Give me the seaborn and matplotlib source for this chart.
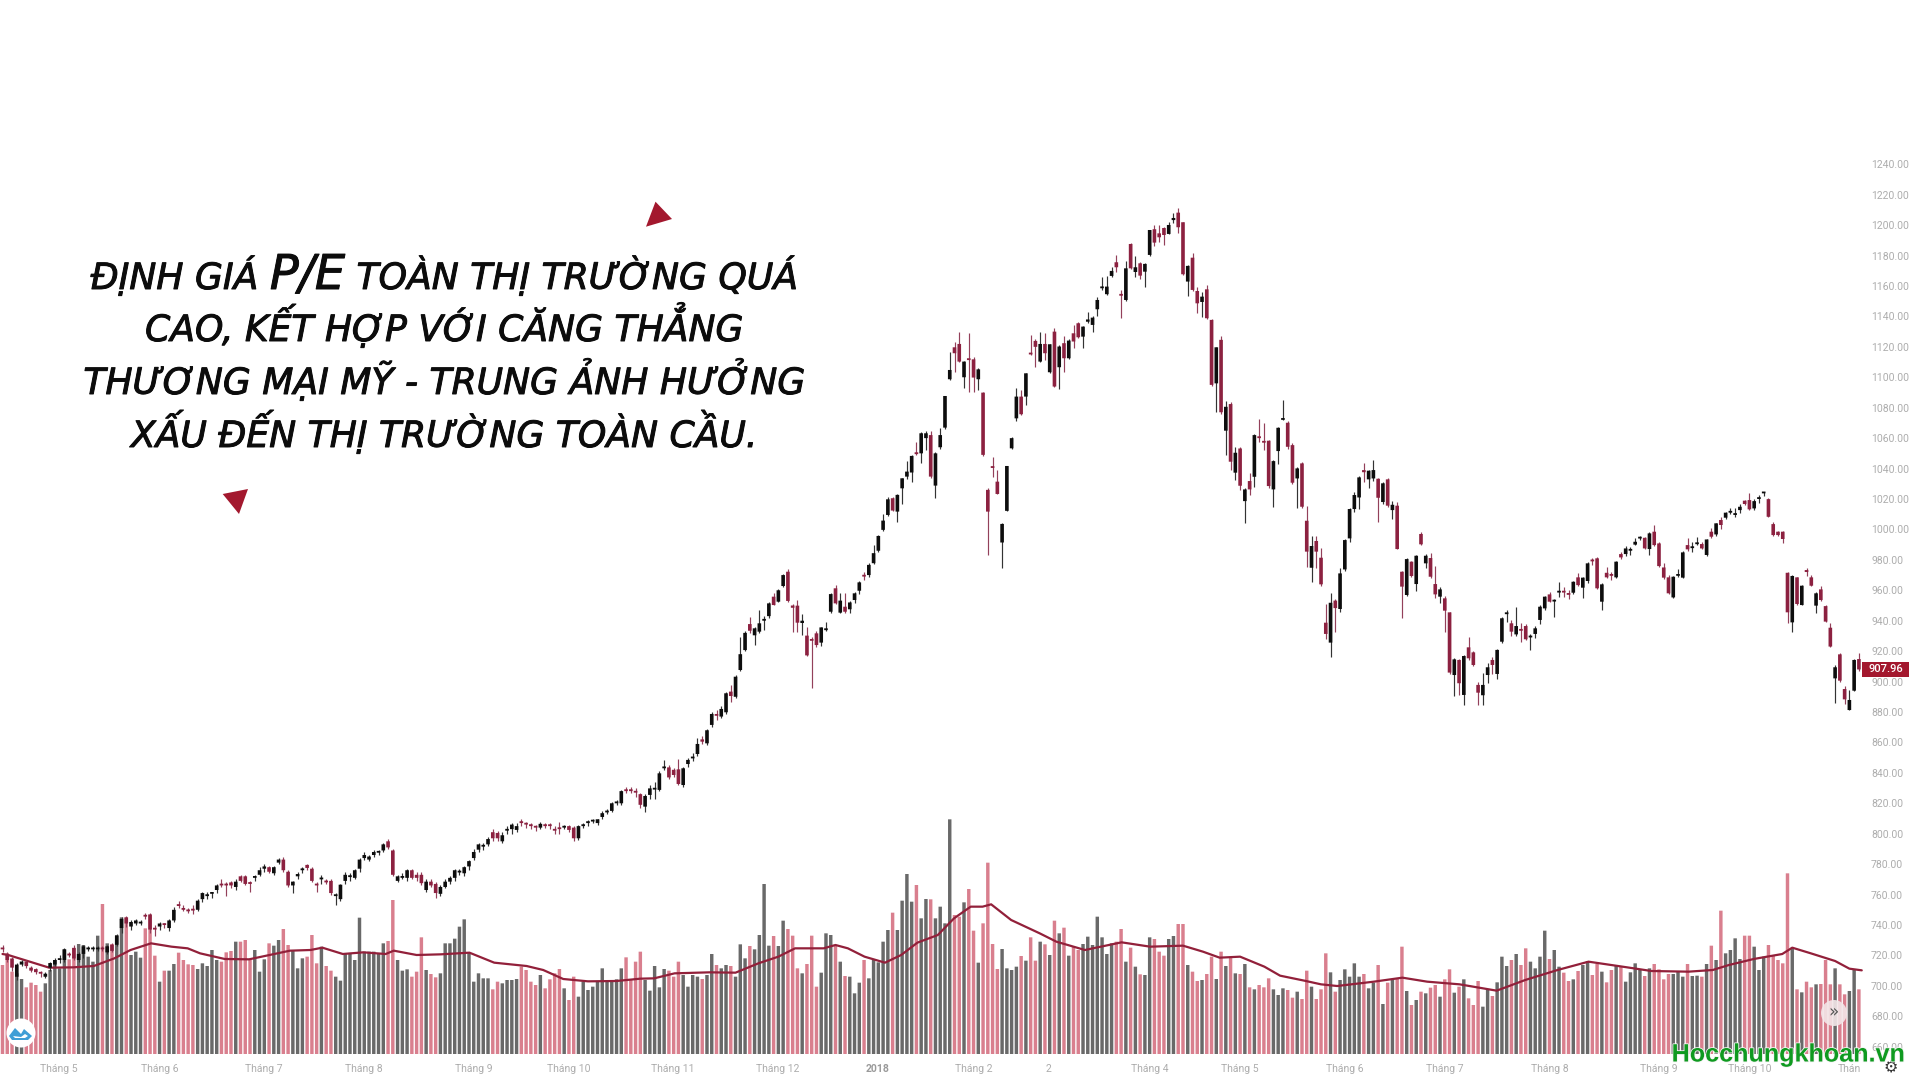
import numpy as np
import pandas as pd
import matplotlib
matplotlib.use("Agg")
import matplotlib.pyplot as plt
from matplotlib.patches import Polygon, Rectangle
import matplotlib.patheffects as pe
import seaborn as sns

body_top = [
 725,721,718,714,716,716,712,711,709,708,
 715,717,718,724,721,725,721,726,725,725,
 725,725,726,727,733,744,745,742,743,742,
 746.5,747,738,741,741,743,750,753.5,751,750,
 750,756,761,760,761,766,767,767,768,768.5,
 772,772,768,772,776,778.5,778,778,783,783,
 775,768.5,773.5,777,779.5,777,767,771,769,769,
 760,766.5,773,772.5,776,783,786,785,788,788.5,
 793,795,789,772,772,776,776,773,773,768.5,
 768.5,767,765,768.5,771,776,775.5,778,782,788,
 793,792.5,796.5,801,800.5,799,803,806,805,808,
 807,806,805,806.5,806,806,803,804,805,805,
 804,805,806,808,809,809.5,813.5,815,820,821,
 828,829,829,828,826,824.8,829.8,830,839.7,844,
 843.6,842,842.3,843,848.5,850,859,862,868,878.7,
 878.5,882,892.3,893.4,903.2,918,932,937.8,935,938.3,
 941,951.4,955.8,960,970,972.2,950,949.9,940,930.2,
 927.8,931.7,935.6,934.8,957.5,961.3,953.2,949.2,952,958,
 965.2,969.9,976.7,984.4,995.7,1005.8,1019.8,1020.5,1022.7,1033.6,
 1038,1048.3,1050.5,1063.2,1063.2,1062,1050,1062,1087.7,1104.8,
 1119.7,1121.9,1110.3,1112.3,1111.8,1105.2,1089.9,1026,1041.4,1031.4,
 1003.6,1041.7,1060,1087.3,1087.3,1102.6,1116,1123.9,1121.9,1121.9,
 1121.7,1130,1120.2,1122.4,1124.1,1128.9,1135.5,1133.3,1138,1139.2,
 1150.8,1159.5,1159.6,1169.9,1175.6,1154.6,1171.6,1187.6,1172.3,1174.9,
 1174.5,1196.8,1197.3,1194.6,1198.1,1200.1,1204.7,1208.2,1201.9,1173.2,
 1178.6,1156.7,1153,1157.8,1137.7,1119.7,1124.6,1080.6,1082.4,1050.4,
 1053.2,1026.3,1031.8,1062,1061,1058,1058.3,1044.9,1066.8,1073,
 1070.1,1055.4,1040.1,1043.4,1005.7,989.1,992.4,981.4,938.7,951.8,
 953.2,971.1,993,1013.4,1022.6,1034.2,1039,1038.6,1039,1033.3,
 1030.3,1032.9,1016.2,1015.6,972.2,980.5,978.8,982.7,997,982.7,
 981.2,964.1,960.6,954.7,945.5,914.6,914.2,916.8,922.5,919.2,
 897.8,897.8,909.4,914.2,920.8,941.6,945.3,938.3,936.5,934.4,
 936.5,930,935,949.2,955.8,957.3,953.6,959.5,959.5,958,
 965.6,968.5,968.3,977.7,979.9,981,963.9,971.5,970.5,978.8,
 983.8,987.5,986.9,991.9,995,994.5,997.4,998.5,990.8,975,
 968.5,968.9,970.5,984.9,989.7,988.7,991.3,990.4,993.4,998.5,
 1004,1006.2,1011,1012,1010.5,1014.9,1018.9,1019.3,1018.6,1020.9,
 1024.6,1019.9,1003.5,998.5,998.5,971.5,969.4,968.5,963,973.3,
 968.5,958,960.6,949.6,935.4,909.4,917.9,895.1,887.9,914.2,914.8,
]
body_bottom = [
 724,717,712,706,714,713,710,709,708,706,
 712,714,717,717,720,718,717,721,724,724,
 724,724,722,723,727,738,741,739,741,741,
 745.5,737,737,739,740,738,743,752.5,750,749,
 749.5,750,757,759,760.5,763,766,766,766,765,
 769,767,767,771,773,777,775,774,781,776,
 766,766,772,776,777.5,769,766,770,768,761,
 759,757,769,771.5,771,777,784,783,786,787.5,
 789,791,773,769,771,771,771,771,767.5,763,
 766,761,760.5,765,768.5,771,774.5,774,778.5,784,
 789.5,791.5,793,797,797,795,802,803,802.5,807,
 806,805,804,804,805,805,802,803,804,802.5,
 797,797,805,807,808,807,811,814,815,820,
 820,828,828,827,819,817.8,825.5,829,828.8,843,
 837,838.6,832.7,832,845.8,849.5,852.4,860.5,859.4,871.5,
 877.5,877,879.8,890.5,890,907.6,920.7,933.4,930.4,932.8,
 940,943,950.3,952.5,962.8,953,948.5,938.7,938.5,917.2,
 926.8,924,925.6,933.8,945.9,951.4,945.3,945.9,947.5,953.6,
 959.7,969,970,977.8,986,999.7,1009.5,1012.4,1011.7,1027,
 1034.7,1037.4,1049.5,1050,1060,1034.7,1028.8,1054,1066.9,1098.7,
 1115.8,1110.3,1100,1111.3,1099.8,1098.7,1049,1011.7,1040.4,1023.3,
 991.4,1012.2,1053.3,1073,1075.7,1087.3,1115,1120,1110.3,1115.8,
 1103.3,1093.9,1106.6,1112.5,1112.5,1123.5,1126.3,1126.7,1136.5,1134.4,
 1144.7,1158.5,1154.6,1166.6,1172.3,1153.6,1150.8,1171.6,1169.2,1166.8,
 1169.4,1180.4,1188.5,1192,1193.5,1194.2,1203.3,1198.6,1167.7,1162.9,
 1157.4,1148.6,1149.5,1138.8,1095,1096,1077,1064.9,1044.5,1037.3,
 1028.7,1018.6,1026.3,1034.6,1060,1057,1028.5,1026.3,1051.5,1072,
 1054.3,1030.7,1033.5,1014.9,985.4,974.8,985.4,963.9,931.3,925.6,
 948.3,947.7,973.7,994.1,1013.4,1021,1037.6,1032.9,1033.5,1020.8,
 1018,1015.6,1012.7,987.1,962.4,956.9,969.4,964.1,990.2,977.7,
 968.9,957.3,955.8,946.6,905.9,904.3,898.9,891.2,915.3,910.9,
 892.7,891,904.3,910.9,905,926.2,944.3,932.8,931,933.4,
 927.8,929,931.3,940.5,948.1,952.5,952.6,958.5,958.5,957,
 958.4,963.4,961.7,966.1,979,961.3,952.5,968.5,969.5,968.5,
 981.6,983.8,986,990,994,987.5,987.1,989.7,975.9,968.3,
 958,955.3,969.5,968.3,986.9,987.7,990.3,987.5,983.2,995.2,
 996.7,1002.9,1007.7,1011,1009.5,1012.7,1016.7,1013.2,1013.8,1020,
 1023.7,1008.3,996.3,996.3,993.7,945.5,938.9,951,950.3,972,
 963,949.9,953.6,939.4,923,902.1,900.6,888.3,881.3,894,907.96,
]
wick_high = [
 727,722,719,715,717,717,713,712,710,709,
 716,718,720,725,722,727,722,727,726,726,
 726,726,727,728,734,745,746,743,744,743,
 748,748,740,742,741,744,752,756,753,751,
 753,757,762,762,762,767,770,768,769,770,
 773,773,769,773,778,780,779,779,784,785,
 776,769,775,778,780,778,768,773,770,770,
 761,767,775,774,777,784,788,786,789,789,
 794,796.5,790,773,774,777,777,775,775,770,
 770,768,766,770,772,777,777,779,783,790,
 794,794,798,803,802,801,805,807,807,810,
 808,807,806,808,807,807,805,808,806,806,
 805,806,807,809,810,810,815,816,821,822,
 829,831,831,830,827,826,832,834,841,848.5,
 845,843,849,844,850,853,862.7,864,869,880,
 881,884,893,897.7,904,929.5,933,942.6,936,947,
 943,952,958.4,961,971,973.7,951,953.6,944.4,936,
 929,933,936,939.4,958,963.4,958.4,958,953,959,
 966,972,978,990,996.5,1010,1021,1021,1023,1034,
 1045,1049,1057.7,1064,1065,1065,1051,1066.5,1088,1116.9,
 1123.4,1130,1111,1128.9,1113,1106,1090,1027,1047.9,1039,
 1004,1042,1061,1092.8,1091.7,1103,1127.8,1125,1130,1129.4,
 1122,1132.2,1121,1126.8,1125,1134.4,1136,1134,1143.2,1140,
 1153,1165.7,1166.6,1172.3,1180.4,1157.4,1176.7,1188,1179.7,1176,
 1175,1197,1200.1,1200.1,1199,1202.3,1207.8,1211,1202,1174,
 1181.5,1159.2,1156.3,1160.7,1138,1120,1127,1084.7,1083.5,1054,
 1054,1027,1037.3,1063,1072.3,1069.7,1059,1045.5,1067.5,1085,
 1071,1057,1041,1044,1015.4,995.6,995.6,987.5,951,958.4,
 954,974.4,994,1014,1024.8,1035,1043.4,1039,1045.6,1034,
 1031,1033.5,1018.9,1018.2,973,981,979.5,983.5,998,984,
 984.3,976,962,956,946,915.5,915,917.5,929,920,
 899.9,905.4,912,916.4,921.5,942.3,947,940.5,948.8,938.3,
 938,931,936.5,950,956.5,959,954,965.6,962.3,960,
 966.2,971.1,969,978.5,981,982,964.5,975,972.2,979.5,
 985.3,989.1,988.2,994.1,995.5,995,998,1002.9,991.5,977.7,
 970,969.5,973.7,985.5,994.1,991.9,995.2,991.9,994,1000.7,
 1004.5,1007.9,1011.5,1013.8,1013.8,1016.7,1019.5,1023.7,1019.7,1022.6,
 1024.8,1020.5,1005,999,999,972,970,969,963.5,974.8,
 970,959,963,950,938.3,910.9,918.5,897.1,894.5,915,918.5,
]
wick_low = [
 722,716,710,704,713,712,709,708,706,705,
 710,713,715,716,719,717,716,718,723,723,
 723,723,721,722,726,735,739,737,740,740,
 744,735,733,737,738,736,742,751,749,748,
 747,749,755,757,758,761,765,759,764,763,
 768,766,762,769,772,775,774,773,780,775,
 765,761,770,774,776,768,762,767,767,760,
 753,756,767,769,770,775,783,782,785,786,
 788,790,772,768,770,769,770,769,766,762,
 765,758,759,764,767,769,773,772,776,783,
 788,789,792,795,795,794,800,800,801,805,
 804,803,802,803,803.5,803,800,800,803,801,
 795,796,804,805,807,806,810,813,814,819,
 819,827,827,824,817,814.5,822.6,823,828,842,
 836,837,832,831,844,848,851,859,858,870,
 875,876,879,886.8,889,907,920,932,924,932,
 934,942,950,952,962,952.5,932.8,932.8,930.6,917,
 895.6,922.5,923.4,933.4,945,951,945,945,945.3,951.4,
 957.5,967,969,977,985,999,1009,1012,1005,1017,
 1033,1031,1049,1043.5,1052,1034,1020.5,1053,1066,1098,
 1103.7,1110,1092.8,1090.6,1090.6,1091.7,1048,983.3,1034.7,1023,
 974.5,1012,1053,1071,1075,1081.8,1114.7,1107,1110,1111.4,
 1103,1093.5,1092.1,1103.7,1112,1119,1126,1119,1135.5,1130,
 1140.3,1157.4,1154,1165.7,1169.4,1138.8,1150,1171,1165.7,1164.4,
 1159.1,1180,1186.3,1189.2,1187,1194,1201.2,1195,1167,1153.5,
 1157,1142,1139.9,1138,1094.5,1077.5,1076,1048.9,1039,1032.4,
 1026,1004,1022.6,1028,1057.6,1052.2,1027,1014.5,1043,1071.8,
 1052.6,1030,1013.8,1014,975.5,965.6,974.4,963,927.8,916,
 932.8,945.5,973,992,1011.6,1013.2,1031.3,1027,1032,1005,
 1017,1015,1006.6,987,941.6,956,969,959.7,989.5,974.4,
 968,954.7,951.4,932.8,905,890.5,891,884.6,914.5,910,
 884.6,884.6,899.3,905,902,925.5,939.4,930,930,926.2,
 927,920.8,928.4,937.8,947,952,942.2,955.4,955.3,954,
 957.5,962.5,954.7,965,976.6,961,947,968,966.7,968,
 980.3,982.5,983.2,989.5,993,987,983.2,989,975,967.5,
 957.5,955,969,968,986,985.3,989.7,987,982.5,994.5,
 996,1000,1007,1009.9,1007.9,1011,1016,1012.5,1013,1017.1,
 1021.9,1008,996,996,991.3,938.3,932.8,950.5,950,969.4,
 962.5,945.3,953,939,922.5,885.7,900,885.3,881,893.5,907,
]
direction = (
 "DDDUUDDDDU" "UUUUDDUUUU" "UDUDUUDUUU" "DDDUDUUDDD" "DUUUUUDDDU"
 "DDDUUUDUUD" "DUUUDDDUDD" "UUUUUUUUUU" "UDDUUUDDDU" "DDUUUUUUUU"
 "UUUDDUUUUD" "DDDUDDDDUD" "DUUUUUUUUU" "UDDDDUUUUU" "DDDUUUUDUU"
 "DUUDUUUDUU" "UUDUUDDDUD" "DDUUUDUDUU" "UDUUUUUDUU" "UUDUUDUUUU"
 "DDUDDUDDDD" "UUUUDUDDUD" "UDUDUDDUUU" "UUUUDDUDUD" "UUDDDUUDDU"
 "DDUDDUDUDU" "DUDUDDDUUU" "DDUDDUDDDU" "DUUUUUDUUD" "UDUDDUDUDU"
 "DDUDDUDUDD" "DUUDUUUDUD" "DUUUUDUUDD" "UDUUDDUDDU" "DUUUUDUDDD"
 "DUUUDUUDUD" "UDUUUUDDUU" "UDDDDDUDUD" "DUDDDUDDUUD"
)
volume = [
 267,302,247,242,225,200,214,207,187,212,
 252,282,257,314,284,317,330,327,292,277,
 355,450,332,330,357,410,410,297,307,289,
 377,417,295,217,250,250,270,304,282,269,
 267,255,272,264,312,282,277,305,309,337,
 337,342,284,312,247,284,332,325,342,375,
 327,312,257,287,292,357,272,322,264,250,
 232,220,300,300,282,409,307,307,307,302,
 332,339,462,282,250,254,232,247,350,252,
 240,230,242,332,332,346,382,404,304,217,
 242,227,227,194,217,212,222,222,225,262,
 252,217,207,237,197,224,242,255,197,162,
 232,172,217,192,202,217,257,222,222,224,
 257,290,224,277,307,222,190,264,200,255,
 250,232,277,237,202,237,232,225,237,300,
 267,257,267,264,232,329,287,324,314,357,
 510,325,354,324,400,375,355,257,242,270,
 355,202,244,362,357,324,277,234,232,182,
 214,282,227,282,275,337,372,424,372,460,
 540,457,507,407,465,464,407,442,392,704,
 417,412,455,495,370,274,392,574,330,255,
 315,257,252,262,294,280,350,280,337,329,
 297,400,362,379,295,322,312,330,352,327,
 412,350,300,332,337,375,277,319,262,239,
 237,350,345,307,295,345,354,390,390,267,
 247,219,222,240,292,225,307,264,289,242,
 240,270,200,194,207,200,227,194,177,197,
 192,169,187,165,250,202,165,194,302,245,
 187,222,254,232,272,232,240,197,214,267,
 150,214,225,227,322,189,147,162,187,182,
 199,207,172,224,254,184,202,224,167,147,
 219,142,194,174,215,292,264,282,300,267,
 317,277,257,292,370,285,312,262,244,219,
 224,249,267,279,237,270,247,215,252,264,
 262,217,245,272,252,234,257,270,254,224,
 240,240,247,232,270,234,235,232,270,325,
 282,430,302,312,347,285,355,355,322,252,
 292,327,294,282,272,542,317,194,185,217,
 200,209,210,282,209,257,209,179,189,252,194,
]
ma_index = [
 0,1.2,4.6,9.8,14.9,19.2,23.5,26.9,31.2,35.5,38.9,41.5,46.7,51.8,56.1,60.4,
 64.7,67.2,71.5,75.8,80.5,82.2,87,92.1,98.1,103.3,110.1,113.6,117.8,123,129,134,
 136.9,141.2,148.5,154,158.8,163,166.5,172.5,175,177.6,181.1,185.4,188.8,192.2,
 196.5,199.9,203.4,205.9,207.7,211.9,217.9,221.4,227.4,235.1,241.1,248,252.2,
 255.7,260,265.1,268.4,273.5,277,280.4,288.1,294.1,299.3,306.1,313.9,319.9,
 326.7,333.2,341.3,346.4,354.2,359.3,362.7,367.9,373.9,376,379.9,385,388,390.6,
]
ma_value = [
 300,297,282,259,260,264,287,312,332,322,317,302,285,284,297,310,
 312,319,300,305,300,310,297,299,304,274,264,252,225,218,219,226,
 227,242,245,244,272,292,317,317,327,317,292,274,297,334,
 357,407,442,442,449,402,362,337,312,335,322,325,307,
 289,292,262,235,220,209,204,217,229,217,209,190,222,
 252,277,260,249,247,252,267,285,300,319,302,279,256,251,
]
price_ticks = list(range(660, 1241, 20))
month_positions = [11.9,33,54.9,76,99,119,140.8,162.9,183.9,204,219.8,241,260,282,303,325,348,367,388]
month_labels = ["Tháng 5","Tháng 6","Tháng 7","Tháng 8","Tháng 9","Tháng 10","Tháng 11","Tháng 12","2018",
                "Tháng 2","2","Tháng 4","Tháng 5","Tháng 6","Tháng 7","Tháng 8","Tháng 9","Tháng 10","Thán"]
last_price = 907.96
caption = [
    [("ĐỊNH GIÁ ", False), ("P/E", True), (" TOÀN THỊ TRƯỜNG QUÁ", False)],
    [("CAO, KẾT HỢP VỚI CĂNG THẲNG", False)],
    [("THƯƠNG MẠI MỸ - TRUNG ẢNH HƯỞNG", False)],
    [("XẤU ĐẾN THỊ TRƯỜNG TOÀN CẦU.", False)],
]

n = len(volume)
assert all(len(a) == n for a in (body_top, body_bottom, wick_high, wick_low, direction))

W, H = 1920, 1077
GREY, PINK, BLACK, RED = "#696969", "#d97f8e", "#0d0d0d", "#8c2140"
df = pd.DataFrame({"i": np.arange(n), "volume": volume, "dir": list(direction),
                   "top": body_top, "bottom": body_bottom, "high": wick_high, "low": wick_low})
up = df["dir"] == "U"
df["open"] = np.where(up, df["bottom"], df["top"])
df["close"] = np.where(up, df["top"], df["bottom"])
df.loc[n - 1, "close"] = last_price

sns.set_theme(style="white", rc={"axes.facecolor": "white", "figure.facecolor": "white"})
fig = plt.figure(figsize=(W / 100, H / 100), dpi=100)
ax_v = fig.add_axes([0, 0, 1, 1])

sns.barplot(data=df, x="i", y="volume", hue="dir", palette={"U": GREY, "D": PINK},
            dodge=False, native_scale=True, width=0.72, saturation=1, errorbar=None,
            linewidth=0, legend=False, ax=ax_v)
for patch in ax_v.patches:
    patch.set_snap(False)
sns.lineplot(x=ma_index, y=ma_value, color="#92203a", linewidth=1.6, ax=ax_v, zorder=5)

PX_X = 4.76
ax_v.set_xlim(-2.5 / PX_X, (W - 2.5) / PX_X)
ax_v.set_ylim(-(H - 1054) * 3, 1054 * 3)

ax_p = ax_v.twinx()
ax_p.patch.set_visible(False)
ax_p.set_ylim(880 - (H - 712) / 1.5215, 880 + 712 / 1.5215)
ax_p.set_zorder(ax_v.get_zorder() + 1)

colors = np.where(up, BLACK, RED)
wick_colors = np.where(up, "#333333", "#93405a")
wicks = ax_p.vlines(df["i"], df["low"], df["high"], colors=wick_colors, linewidth=0.85, zorder=2)
heights = np.maximum(df["top"] - df["bottom"], 1.2)
bodies = ax_p.bar(df["i"], heights, bottom=df["bottom"], width=0.76, color=colors, linewidth=0, zorder=3)
for patch in bodies:
    patch.set_snap(False)

for a in (ax_v, ax_p):
    for s in a.spines.values():
        s.set_visible(False)
    a.grid(False)
    a.set_xlabel("")
    a.set_ylabel("")
ax_v.set_yticks([])

TICK = "#adadad"
FONT = "Roboto"
ax_p.set_yticks(price_ticks)
ax_p.set_yticklabels([f"{v:.2f}" for v in price_ticks], fontsize=7.5, color=TICK, family=FONT, ha="left")
ax_p.tick_params(axis="y", length=0, pad=-49 * 0.72, right=False, labelright=True)
ax_v.set_xticks(month_positions)
ax_v.set_xticklabels(month_labels, fontsize=7.5, color=TICK, family=FONT)
ax_v.tick_params(axis="x", length=0, pad=-13.5 * 0.72, bottom=False, labelbottom=True)
for lab, txt in zip(ax_v.get_xticklabels(), month_labels):
    if txt == "2018":
        lab.set_fontweight("bold")
        lab.set_color("#9a9a9a")

# last-price tag, placed from the last price itself
tag_trans = ax_p.get_yaxis_transform()
ax_p.add_patch(Rectangle((1861.7 / W, last_price - 7.5 / 1.5215), 47.3 / W, 15 / 1.5215,
                         transform=tag_trans, facecolor="#a3182e", edgecolor="none", zorder=8))
ax_p.text(1886 / W, last_price, f"{last_price:.2f}", transform=tag_trans, ha="center", va="center",
          fontsize=8, fontweight="medium", color="white", family=FONT, zorder=9)

# caption, centred run by run
renderer = fig.canvas.get_renderer()
stroke = [pe.withStroke(linewidth=0.7, foreground="#0c0c0c")]
def draw_line(runs, cx, cy):
    texts = []
    for s, big in runs:
        t = fig.text(0, 1 - cy / H, s.strip(), fontsize=34.5 if big else 26, style="italic",
                     family="DejaVu Sans", color="#0c0c0c", va="baseline", ha="left",
                     path_effects=stroke)
        texts.append(t)
    gaps = [11.5 if (r[0].endswith(" ") or r[0].startswith(" ")) else 0 for r in runs]
    widths = [t.get_window_extent(renderer).width for t in texts]
    total = sum(widths) + sum(g for g in gaps if g) * (len(runs) > 1) - (gaps[0] if len(runs) == 1 else 0) * 0
    if len(runs) > 1:
        total = sum(widths) + gaps[0] + gaps[2]
    x = cx - total / 2
    for k, t in enumerate(texts):
        t.set_x(x / W)
        x += widths[k] + (gaps[k] if k == 0 else gaps[k + 1] if k + 1 < len(gaps) else 0)

for runs, cy in zip(caption, (289, 341, 394, 447)):
    draw_line(runs, 444.5, cy)

# decorative triangles
for tri in ([(655.5, 201.7), (672, 219), (646, 226.7)], [(222.7, 494), (248, 489), (239, 514)]):
    fig.add_artist(Polygon([(x / W, 1 - y / H) for x, y in tri], closed=True, transform=fig.transFigure,
                           facecolor="#a3182e", edgecolor="none"))

def px_circle(x, y, r, **kw):
    fig.add_artist(matplotlib.patches.Ellipse((x / W, 1 - y / H), 2 * r / W, 2 * r / H,
                                              transform=fig.transFigure, **kw))

# logo button
px_circle(21, 1033, 14.5, facecolor="white", edgecolor="none", zorder=10)
logo = [(9, 1036), (15, 1028), (21, 1034), (24, 1029), (32, 1036), (28, 1040), (12, 1040)]
fig.add_artist(Polygon([(x / W, 1 - y / H) for x, y in logo], closed=True, transform=fig.transFigure,
                       facecolor="#3f9ed6", edgecolor="none", zorder=11))
fig.add_artist(Polygon([(x / W, 1 - y / H) for x, y in [(13, 1036), (21, 1037), (25, 1034), (28, 1036), (25, 1038), (15, 1038)]],
                       closed=True, transform=fig.transFigure, facecolor="white", edgecolor="none", zorder=12))

# scroll button
px_circle(1834, 1013, 13, facecolor="#f3e6e8", edgecolor="none", alpha=0.9, zorder=10)
fig.text(1834 / W, 1 - 1012 / H, "»", fontsize=12, color="#555555", ha="center", va="center",
         family="DejaVu Sans", zorder=11)
# settings gear
fig.text(1891 / W, 1 - 1068 / H, "⚙", fontsize=11.5, color="#333333", ha="center", va="center",
         family="DejaVu Sans", zorder=11)
# watermark
fig.text(1904.5 / W, 1 - 1061.5 / H, "Hocchungkhoan.vn", fontsize=18.1, fontweight="bold", color="#0f9a20",
         family="Liberation Sans", ha="right", va="baseline", zorder=12,
         path_effects=[pe.withStroke(linewidth=1.2, foreground="#f4f4f4")])

fig.savefig("out.png", dpi=100, facecolor="white")
